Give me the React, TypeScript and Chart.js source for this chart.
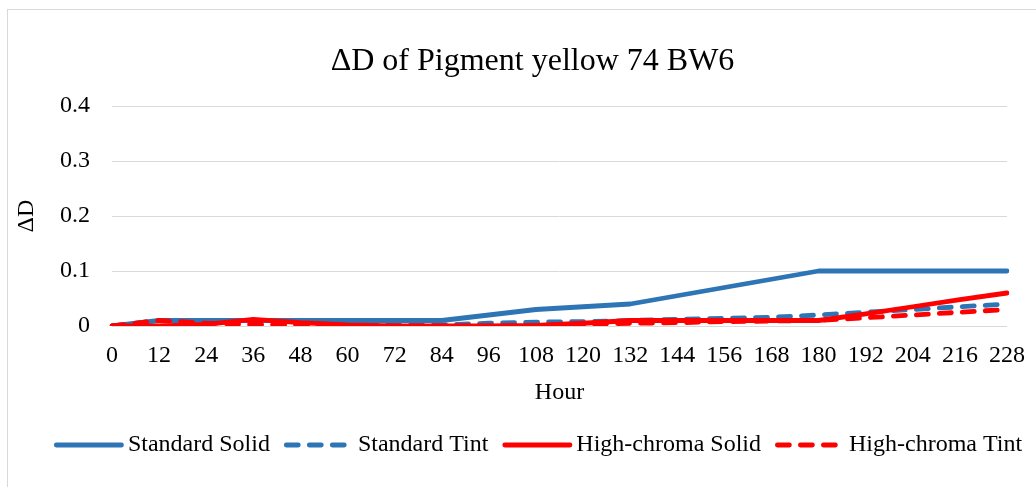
import React, { useEffect, useRef } from "react";
import { Chart, registerables } from "chart.js";

Chart.register(...registerables);

const hours = ["0", "12", "24", "36", "48", "60", "72", "84", "96", "108", "120", "132", "144", "156", "168", "180", "192", "204", "216", "228"];
const standardSolid = [0, 0.01, 0.01, 0.01, 0.01, 0.01, 0.01, 0.01, 0.02, 0.03, 0.035, 0.04, 0.055, 0.07, 0.085, 0.1, 0.1, 0.1, 0.1, 0.1];
const standardTint = [0, 0.01, 0.01, 0.01, 0.007, 0.004, 0.002, 0.002, 0.005, 0.007, 0.008, 0.01, 0.012, 0.014, 0.016, 0.02, 0.025, 0.03, 0.035, 0.04];
const highChromaSolid = [0, 0, 0.003, 0.012, 0.006, 0.002, 0, 0, 0, 0.001, 0.005, 0.01, 0.01, 0.01, 0.01, 0.01, 0.022, 0.035, 0.048, 0.06];
const highChromaTint = [0, 0.01, 0.005, 0.003, 0.002, 0, 0, 0, 0, 0.001, 0.003, 0.005, 0.006, 0.008, 0.009, 0.01, 0.015, 0.02, 0.025, 0.03];
const yTicks = [0, 0.1, 0.2, 0.3, 0.4];

const FONT = "'Liberation Serif', 'Times New Roman', serif";
const BLUE = "#2E75B6";
const RED = "#FF0000";
const LW = 4.8;
const DASH = [12, 11];

const customLegend = {
  id: "customLegend",
  afterDraw(chart: any) {
    const ctx = chart.ctx;
    const datasets = chart.data.datasets;
    const lineLen = 70;
    const gapText = 4;
    const spacing = 14;
    ctx.save();
    ctx.font = `24px ${FONT}`;
    const widths = datasets.map((d: any) => ctx.measureText(d.label).width);
    const total = widths.reduce((a: number, b: number) => a + b, 0) + datasets.length * (lineLen + gapText) + (datasets.length - 1) * spacing;
    let x = 530 - total / 2;
    const y = 435;
    datasets.forEach((d: any, i: number) => {
      ctx.beginPath();
      ctx.strokeStyle = d.borderColor;
      ctx.lineWidth = LW;
      ctx.lineCap = "round";
      ctx.setLineDash(d.borderDash || []);
      ctx.moveTo(x + LW / 2, y);
      ctx.lineTo(x + lineLen - LW / 2, y);
      ctx.stroke();
      ctx.setLineDash([]);
      ctx.fillStyle = "#000";
      ctx.textBaseline = "middle";
      ctx.textAlign = "left";
      ctx.fillText(d.label, x + lineLen + gapText, y);
      x += lineLen + gapText + widths[i] + spacing;
    });
    ctx.restore();
  },
};

export default function App() {
  const ref = useRef<HTMLCanvasElement | null>(null);
  useEffect(() => {
    if (!ref.current) return;
    const common = { borderWidth: LW, pointRadius: 0, tension: 0, borderCapStyle: "round", borderJoinStyle: "round" };
    const chart = new Chart(ref.current, {
      type: "line",
      data: {
        labels: hours,
        datasets: [
          { label: "Standard Solid", data: standardSolid, borderColor: BLUE, backgroundColor: BLUE, order: 3, ...common },
          { label: "Standard Tint", data: standardTint, borderColor: BLUE, backgroundColor: BLUE, borderDash: DASH, order: 2, ...common },
          { label: "High-chroma Solid", data: highChromaSolid, borderColor: RED, backgroundColor: RED, order: 1, ...common },
          { label: "High-chroma Tint", data: highChromaTint, borderColor: RED, backgroundColor: RED, borderDash: DASH, order: 0, ...common },
        ] as any,
      },
      options: {
        animation: false,
        responsive: true,
        maintainAspectRatio: false,
        layout: { padding: { top: 10, left: 50, right: 49, bottom: 83 } },
        plugins: {
          tooltip: { enabled: false },
          legend: { display: false },
          title: {
            display: true,
            text: "ΔD of Pigment yellow 74 BW6",
            color: "#000",
            font: { family: FONT, size: 32, weight: "normal" },
            padding: { top: 22.8, bottom: 24.8 },
          },
        },
        scales: {
          x: {
            type: "category",
            offset: false,
            grid: { display: false, drawTicks: false },
            border: { display: false },
            ticks: { color: "#000", font: { family: FONT, size: 24 }, padding: 15.6, autoSkip: false, maxRotation: 0, minRotation: 0 },
            title: { display: true, text: "Hour", color: "#000", font: { family: FONT, size: 24 }, padding: { top: 0, bottom: 7.6 } },
            afterFit: (scale: any) => { scale.height = 89; },
          },
          y: {
            min: 0,
            max: 0.4,
            afterBuildTicks: (scale: any) => { scale.ticks = yTicks.map((v) => ({ value: v })); },
            grid: { color: "#d9d9d9", lineWidth: 1, drawTicks: false },
            border: { display: false },
            ticks: { color: "#000", font: { family: FONT, size: 24 }, padding: 22, callback: (v: any) => (Number(v) === 0 ? "0" : Number(v).toFixed(1)) },
            title: { display: true, text: "ΔD", color: "#000", font: { family: FONT, size: 24 }, padding: { top: -45.4, bottom: 0 } },
            afterFit: (scale: any) => { scale.width = 54; },
          },
        },
      },
      plugins: [customLegend],
    });
    return () => chart.destroy();
  }, []);
  return (
    <div style={{ position: "fixed", left: 0, top: 0, width: 1036, height: 487, overflow: "hidden", background: "#fff" }}>
      <div style={{ position: "absolute", left: 7, top: 9, width: 1048, height: 488, border: "1px solid #d9d9d9" }}>
        <div style={{ position: "relative", width: 1048, height: 488 }}>
          <canvas ref={ref} />
        </div>
      </div>
    </div>
  );
}
